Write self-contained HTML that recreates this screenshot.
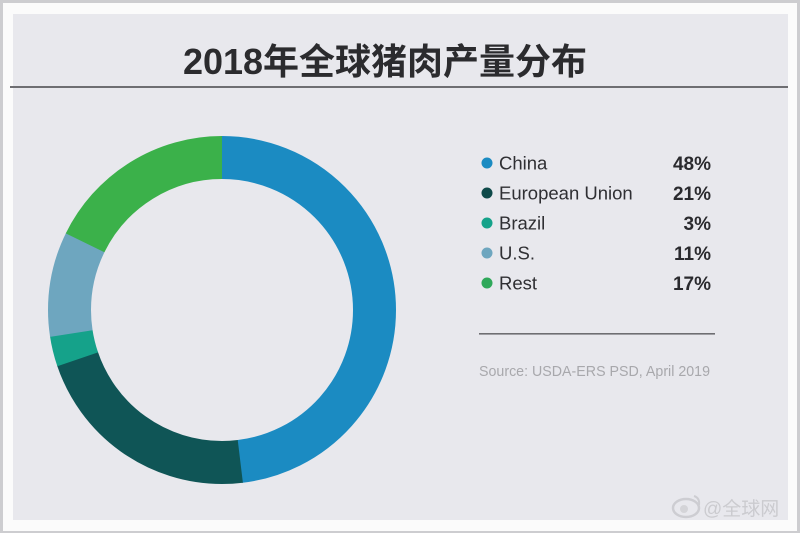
<!DOCTYPE html>
<html>
<head>
<meta charset="utf-8">
<style>
  html,body{margin:0;padding:0;}
  body{width:800px;height:533px;overflow:hidden;background:#cfcfd2;}
  svg{display:block;}
</style>
</head>
<body>
<svg width="800" height="533" viewBox="0 0 800 533" xmlns="http://www.w3.org/2000/svg">
  <!-- outer frame -->
  <rect x="0" y="0" width="800" height="533" fill="#cdcdd0"/>
  <rect x="3" y="3" width="794" height="528" fill="#fbfbfb"/>
  <!-- panel -->
  <rect x="13" y="14" width="775" height="506" fill="#e8e8ed"/>
  <!-- title -->
  <text x="385" y="74" text-anchor="middle" font-family="'Liberation Sans','Noto Sans CJK SC',sans-serif" font-size="36" font-weight="bold" fill="#2b2b2e">2018年全球猪肉产量分布</text>
  <!-- divider -->
  <rect x="10" y="86" width="778" height="2" fill="#6e6e72"/>

  <!-- donut -->
  <g transform="rotate(-90 222 310)" fill="none" stroke-width="43">
    <circle cx="222" cy="310" r="152.5" stroke="#1b8bc2" stroke-dasharray="461.5 958.19" stroke-dashoffset="0"/>
    <circle cx="222" cy="310" r="152.5" stroke="#0f5556" stroke-dasharray="208.6 958.19" stroke-dashoffset="-460.5"/>
    <circle cx="222" cy="310" r="152.5" stroke="#15a28a" stroke-dasharray="27.6 958.19" stroke-dashoffset="-668.1"/>
    <circle cx="222" cy="310" r="152.5" stroke="#6ea6bf" stroke-dasharray="94.2 958.19" stroke-dashoffset="-694.7"/>
    <circle cx="222" cy="310" r="152.5" stroke="#3bb14a" stroke-dasharray="171.3 958.19" stroke-dashoffset="-787.9"/>
  </g>

  <!-- legend -->
  <g font-family="'Liberation Sans',sans-serif" font-size="18.5" fill="#2f2f33">
    <circle cx="487" cy="163" r="5.5" fill="#1b8bc2"/>
    <text x="499" y="169.5">China</text>
    <circle cx="487" cy="193" r="5.5" fill="#0f4a4a"/>
    <text x="499" y="199.5">European Union</text>
    <circle cx="487" cy="223" r="5.5" fill="#15a28a"/>
    <text x="499" y="229.5">Brazil</text>
    <circle cx="487" cy="253" r="5.5" fill="#6ea6bf"/>
    <text x="499" y="259.5">U.S.</text>
    <circle cx="487" cy="283" r="5.5" fill="#2fa85a"/>
    <text x="499" y="289.5">Rest</text>
  </g>
  <g font-family="'Liberation Sans',sans-serif" font-size="19" font-weight="bold" fill="#2a2a2e" text-anchor="end">
    <text x="711" y="170">48%</text>
    <text x="711" y="200">21%</text>
    <text x="711" y="230">3%</text>
    <text x="711" y="260">11%</text>
    <text x="711" y="290">17%</text>
  </g>
  <rect x="479" y="333" width="236" height="1.6" fill="#6e6e72"/>
  <text x="479" y="376" font-family="'Liberation Sans',sans-serif" font-size="15" fill="#a8a8ac" textLength="231" lengthAdjust="spacingAndGlyphs">Source: USDA-ERS PSD, April 2019</text>

  <!-- watermark -->
  <g opacity="0.55">
    <ellipse cx="686" cy="508" rx="13" ry="9" fill="none" stroke="#b8b8bc" stroke-width="2.5"/>
    <circle cx="684" cy="509" r="4" fill="#c4c4c8"/>
    <path d="M694 496 q6 2 5 9" fill="none" stroke="#b8b8bc" stroke-width="2"/>
    <text x="703" y="515" font-family="'Liberation Sans','Noto Sans CJK SC',sans-serif" font-size="19" fill="#b4b4b8">@全球网</text>
  </g>
</svg>
</body>
</html>
